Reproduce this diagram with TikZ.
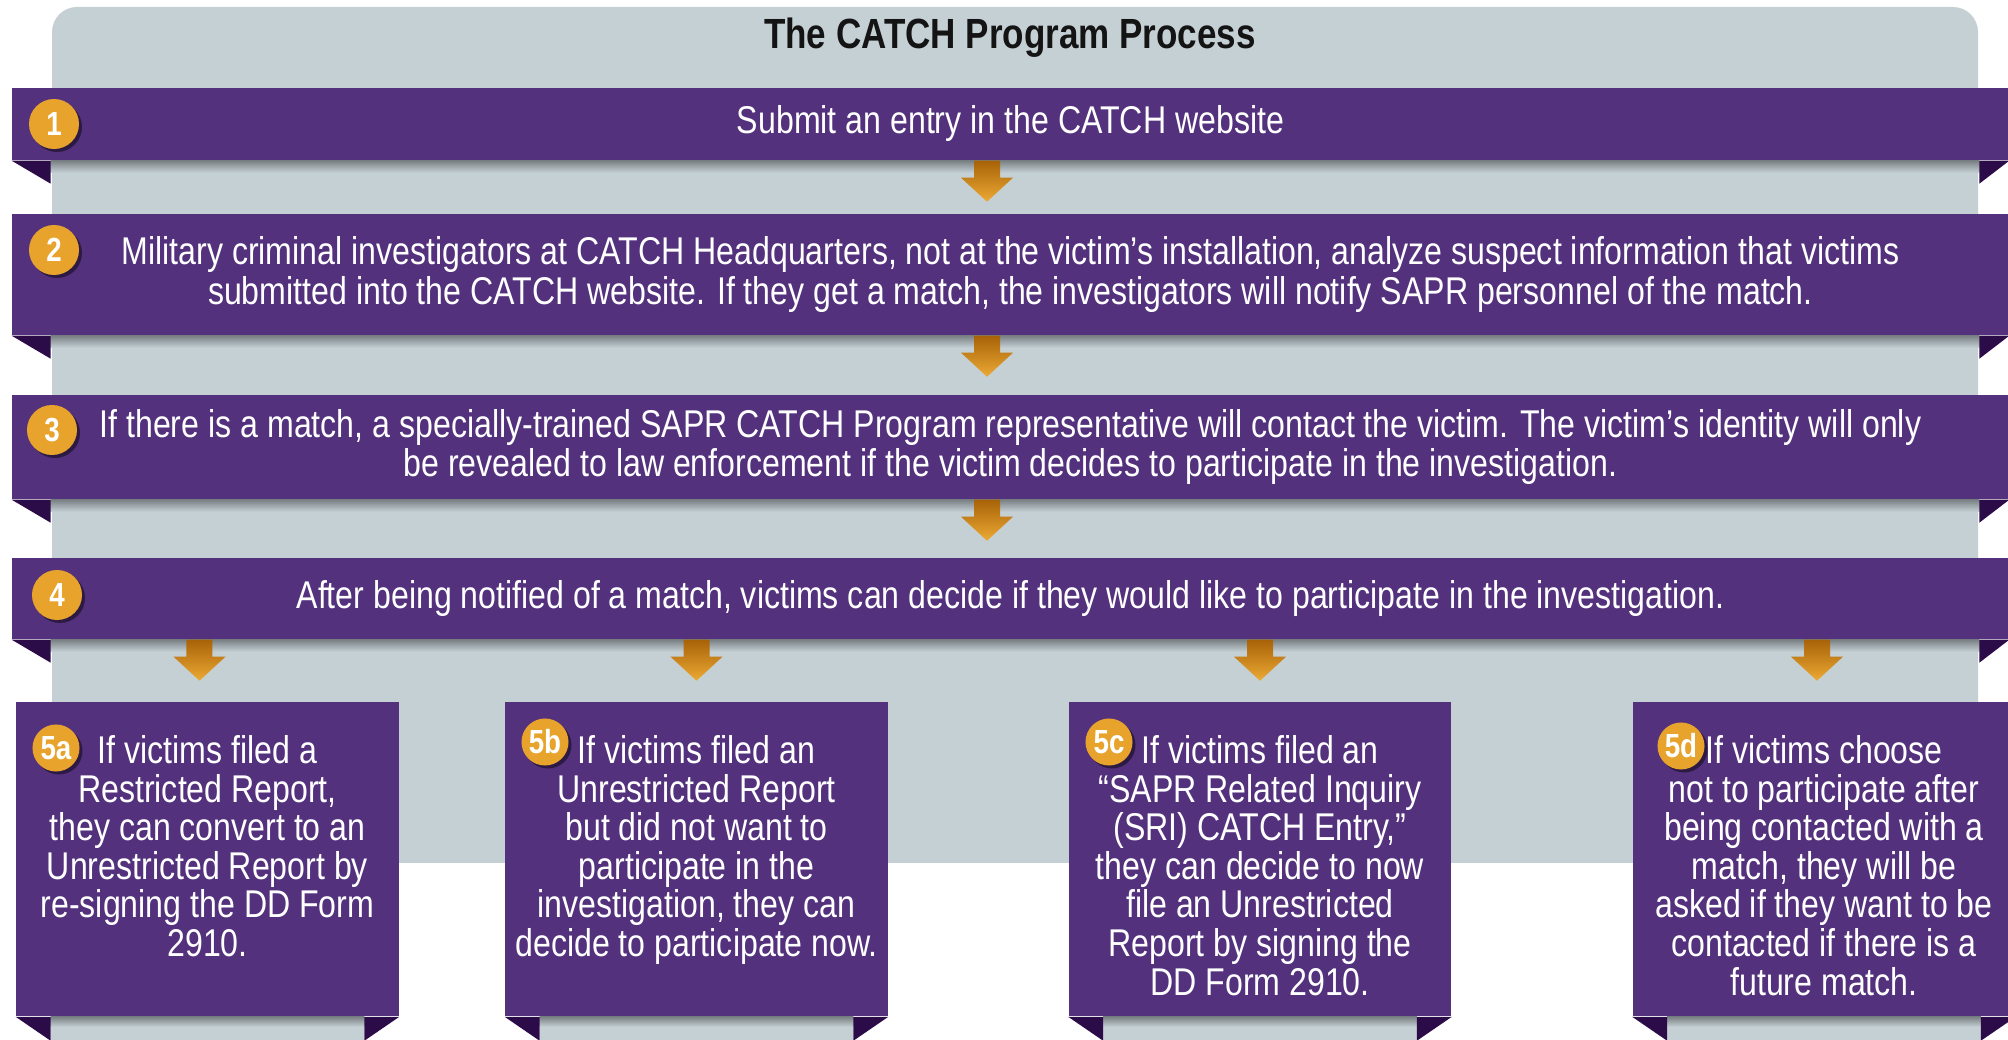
\documentclass[tikz,border=0pt]{standalone}
\usepackage{fontspec}
\setmainfont{Liberation Sans}[FakeStretch=0.83]
\usetikzlibrary{positioning,shadows}

\definecolor{catchpurple}{RGB}{83,49,125}
\definecolor{folddark}{RGB}{44,12,72}
\definecolor{panelgray}{RGB}{197,208,213}
\definecolor{badgeorange}{RGB}{231,163,43}
\definecolor{arrowtop}{RGB}{168,98,8}
\definecolor{arrowbot}{RGB}{236,170,52}

\tikzset{
  banner/.style={fill=catchpurple, text=white, minimum width=19.95cm, inner sep=0pt,
    align=center, font=\fontsize{11}{11.1}\selectfont},
  stepbox/.style={fill=catchpurple, minimum width=3.82cm, minimum height=3.14cm, inner sep=0pt},
  boxtext/.style={text=white, align=center, inner sep=0pt, font=\fontsize{11}{10.95}\selectfont},
  badge/.style={circle, fill=badgeorange, text=white, inner sep=0pt, minimum size=0.5cm,
    font=\fontsize{9.5}{9.5}\bfseries\selectfont,
    drop shadow={shadow xshift=0.03cm, shadow yshift=-0.03cm, opacity=0.45, fill=black}},
  undershade/.style={top color=panelgray!62!black, bottom color=panelgray}
}

% orange block arrow hanging from a point
\newcommand{\flowarrow}[1]{%
  \shade[top color=arrowtop, bottom color=arrowbot, shift={(#1)}]
    (-13,0) -- (13,0) -- (13,17) -- (26,17) -- (0,41) -- (-26,17) -- (-13,17) -- cycle;}

\begin{document}
\begin{tikzpicture}[x=0.01cm, y=-0.01cm]
\useasboundingbox (0,0) rectangle (2008,1040);
\clip (0,0) rectangle (2008,1040);
\fill[white] (0,0) rectangle (2008,1040);

% gray panel
\fill[panelgray, rounded corners=0.25cm] (52,7) rectangle (1978,863);
\fill[panelgray] (52,800) rectangle (1978,863);
\node[font=\fontsize{12}{12}\bfseries\selectfont, text=black!92] (title) at (1010,38) {The CATCH Program Process};

% steps 1-4
\node[banner, minimum height=0.72cm] (b1) at (1010.5,124) {Submit an entry in the CATCH website};
\node[banner, minimum height=1.21cm] (b2) at (1010.5,274.5) {Military criminal investigators at CATCH Headquarters, not at the victim’s installation, analyze suspect information that victims\\submitted into the CATCH website. If they get a match, the investigators will notify SAPR personnel of the match.};
\node[banner, minimum height=1.04cm] (b3) at (1010.5,447) {If there is a match, a specially-trained SAPR CATCH Program representative will contact the victim. The victim’s identity will only\\be revealed to law enforcement if the victim decides to participate in the investigation.};
\node[banner, minimum height=0.81cm] (b4) at (1010.5,598.5) {After being notified of a match, victims can decide if they would like to participate in the investigation.};

\foreach \bn in {b1,b2,b3,b4} {
  \shade[undershade] ([xshift=0.39cm]\bn.south west) rectangle ([xshift=-0.30cm,yshift=-0.12cm]\bn.south east);
  \fill[folddark] (\bn.south west) -- ++(39,0) -- ++(0,23) -- cycle;
  \fill[folddark] (\bn.south east) -- ++(-30,0) -- ++(0,23) -- cycle;
}

\node[badge] (n1) at (54,124) {1};
\node[badge] (n2) at (54,250) {2};
\node[badge] (n3) at (52,430) {3};
\node[badge] (n4) at (57,595) {4};

% step 5 boxes
\node[stepbox] (t5a) at (207.5,859) {};
\node[stepbox] (t5b) at (696.5,859) {};
\node[stepbox] (t5c) at (1260,859) {};
\node[stepbox] (t5d) at (1824,859) {};

\foreach \tn in {t5a,t5b,t5c,t5d} {
  \fill[panelgray] ([xshift=0.35cm]\tn.south west) rectangle ([xshift=-0.35cm,yshift=-0.24cm]\tn.south east);
  \shade[undershade] ([xshift=0.35cm]\tn.south west) rectangle ([xshift=-0.35cm,yshift=-0.1cm]\tn.south east);
  \fill[folddark] (\tn.south west) -- ++(35,0) -- ++(0,24) -- cycle;
  \fill[folddark] (\tn.south east) -- ++(-35,0) -- ++(0,24) -- cycle;
}

\node[boxtext, below=0.34cm of t5a.north] (x5a) {If victims filed a\\Restricted Report,\\they can convert to an\\Unrestricted Report by\\re-signing the DD Form\\2910.};
\node[boxtext, below=0.34cm of t5b.north] (x5b) {If victims filed an\\Unrestricted Report\\but did not want to\\participate in the\\investigation, they can\\decide to participate now.};
\node[boxtext, below=0.34cm of t5c.north] (x5c) {If victims filed an\\“SAPR Related Inquiry\\(SRI) CATCH Entry,”\\they can decide to now\\file an Unrestricted\\Report by signing the\\DD Form 2910.};
\node[boxtext, below=0.34cm of t5d.north] (x5d) {If victims choose\\not to participate after\\being contacted with a\\match, they will be\\asked if they want to be\\contacted if there is a\\future match.};

\node[badge, minimum size=0.47cm] (n5a) at (56,748) {5a};
\node[badge, minimum size=0.47cm] (n5b) at (545,742) {5b};
\node[badge, minimum size=0.47cm] (n5c) at (1109,742) {5c};
\node[badge, minimum size=0.47cm] (n5d) at (1681,746) {5d};

% arrows
\coordinate (ax) at (987,0);
\flowarrow{b1.south -| ax}
\flowarrow{b2.south -| ax}
\flowarrow{b3.south -| ax}
\flowarrow{[xshift=-0.08cm]b4.south -| t5a.north}
\flowarrow{b4.south -| t5b.north}
\flowarrow{b4.south -| t5c.north}
\flowarrow{[xshift=-0.07cm]b4.south -| t5d.north}
\end{tikzpicture}
\end{document}
